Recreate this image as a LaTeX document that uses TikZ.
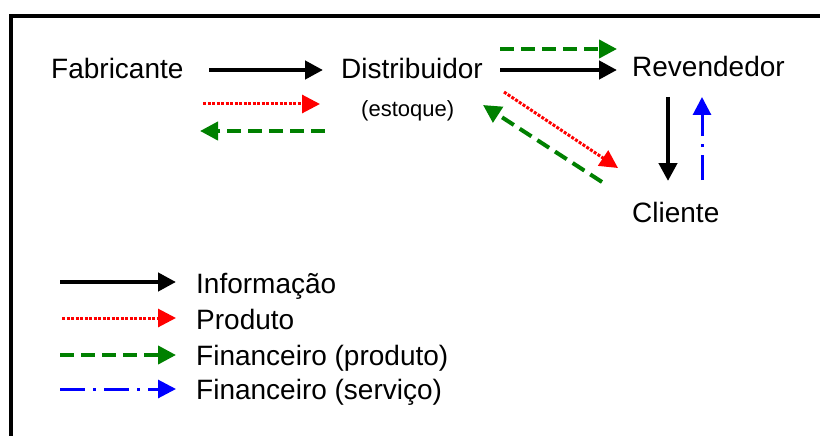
\documentclass[tikz,border=0pt]{standalone}
\usepackage{fontspec}
\setmainfont{Liberation Sans}
\usetikzlibrary{arrows.meta}
\definecolor{dkgreen}{RGB}{0,128,0}
\tikzset{
  lbl/.style={inner sep=0pt, anchor=base west, font=\fontsize{28}{32}\selectfont},
  tip/.style={-{Triangle[length=18pt,width=18pt]}},
  info/.style={tip, black, line width=4.3pt},
  prod/.style={tip, red, line width=3pt, dash pattern=on 3pt off 1.5pt},
  finp/.style={tip, dkgreen, line width=4pt, dash pattern=on 14pt off 7pt},
  fins/.style={tip, blue, line width=3pt, dash pattern=on 25pt off 8pt on 3pt off 8pt},
}
\begin{document}
\begin{tikzpicture}[x=1pt,y=-1pt]
\useasboundingbox (0,0) rectangle (820,436);
\draw[line width=4pt] (10.5,436) -- (10.5,16) -- (822,16);
% nodes
\node[lbl] (fab) at (51,78) {Fabricante};
\node[lbl] (dist) at (341,78) {Distribuidor};
\node[lbl, font=\fontsize{22}{26}\selectfont] (est) at (361,117) {(estoque)};
\node[lbl] (rev) at (632,77) {Revendedor};
\node[lbl] (cli) at (632,222) {Cliente};
% arrow end coordinates
\coordinate (a1s) at (209,70);  \coordinate (a1e) at (323,70);
\coordinate (a2s) at (203,104); \coordinate (a2e) at (320,104);
\coordinate (a3s) at (325,131); \coordinate (a3e) at (200,131);
\coordinate (b1s) at (500,49);  \coordinate (b1e) at (617,49);
\coordinate (b2s) at (500,70);  \coordinate (b2e) at (617,70);
\coordinate (c1s) at (504,92);  \coordinate (c1e) at (618,168);
\coordinate (c2s) at (602,182); \coordinate (c2e) at (483,105);
\coordinate (d1s) at (668,97);  \coordinate (d1e) at (668,181);
\coordinate (d2s) at (702,180); \coordinate (d2e) at (702,97);
\draw[info] (a1s) -- (a1e);
\draw[prod] (a2s) -- (a2e);
\draw[finp] (a3s) -- (a3e);
\draw[finp] (b1s) -- (b1e);
\draw[info] (b2s) -- (b2e);
\draw[prod] (c1s) -- (c1e);
\draw[finp] (c2s) -- (c2e);
\draw[info] (d1s) -- (d1e);
\draw[fins] (d2s) -- (d2e);
% legend
\node[lbl] (l1) at (196,293) {Informação};
\node[lbl] (l2) at (196,329) {Produto};
\node[lbl] (l3) at (196,365) {Financeiro (produto)};
\node[lbl] (l4) at (196,399) {Financeiro (serviço)};
\coordinate (k1s) at (60,282);  \coordinate (k1e) at (176,282);
\coordinate (k2s) at (62,318);  \coordinate (k2e) at (176,318);
\coordinate (k3s) at (60,355);  \coordinate (k3e) at (176,355);
\coordinate (k4s) at (60,389);  \coordinate (k4e) at (176,389);
\draw[info] (k1s) -- (k1e);
\draw[prod] (k2s) -- (k2e);
\draw[finp] (k3s) -- (k3e);
\draw[fins] (k4s) -- (k4e);
\end{tikzpicture}
\end{document}
